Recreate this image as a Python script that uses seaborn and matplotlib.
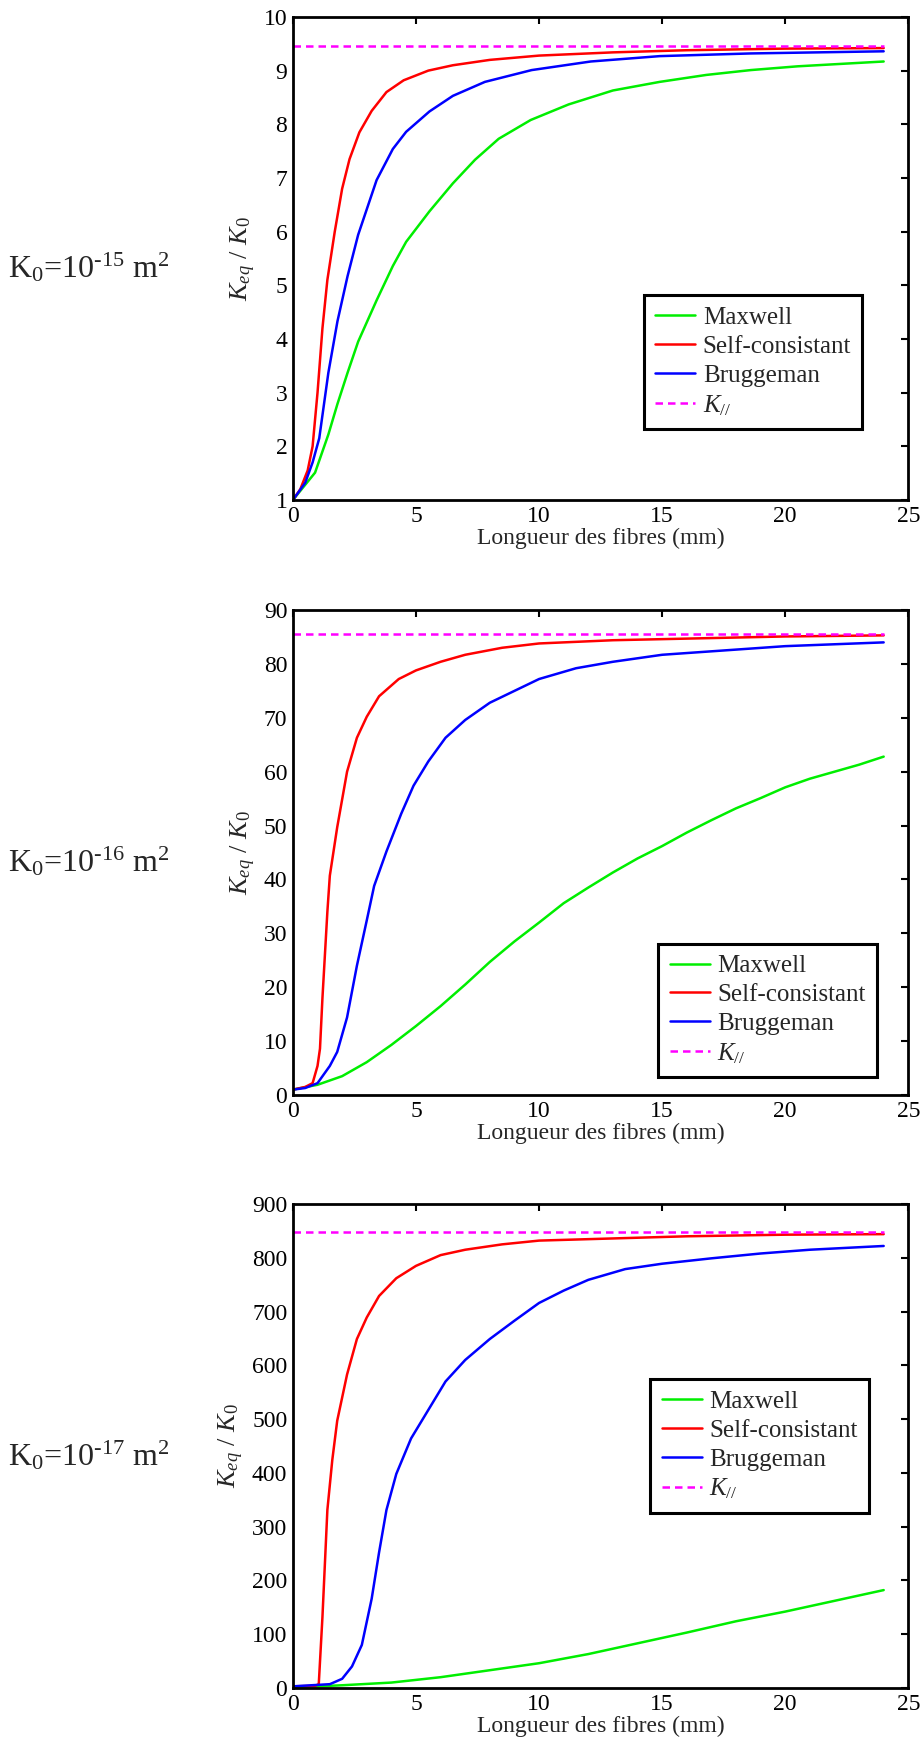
import numpy as np
import pandas as pd
import matplotlib
matplotlib.use("Agg")
import matplotlib.pyplot as plt
import seaborn as sns

sns.set_theme(style="white")
plt.rcParams['font.family'] = ['Liberation Serif', 'DejaVu Serif']
plt.rcParams['mathtext.fontset'] = 'custom'
plt.rcParams['mathtext.rm'] = 'Liberation Serif'
plt.rcParams['mathtext.it'] = 'Liberation Serif:italic'
plt.rcParams['mathtext.bf'] = 'Liberation Serif:bold'

# ---------------- data ----------------
panel_labels = ["K$_0$=10$^{\u2010 15}$ m$^2$", "K$_0$=10$^{\u2010 16}$ m$^2$", "K$_0$=10$^{\u2010 17}$ m$^2$"]
series_names = ["Maxwell", "Self-consistant", "Bruggeman", "$K_{//}$"]

# Panel 1 (K0 = 1e-15)
p1_max_x = [0, 0.9, 1.44, 1.81, 2.22, 2.65, 3.4, 4.06, 4.6, 5.55, 6.5, 7.4, 8.36, 9.66, 11.2, 13.0, 14.9, 16.8, 18.6, 20.5, 24]
p1_max_y = [1.0, 1.51, 2.22, 2.79, 3.37, 3.95, 4.72, 5.36, 5.81, 6.38, 6.9, 7.34, 7.73, 8.08, 8.37, 8.63, 8.79, 8.92, 9.01, 9.08, 9.17]
p1_sc_x = [0, 0.3, 0.6, 0.8, 1.0, 1.2, 1.4, 1.7, 2.0, 2.3, 2.7, 3.2, 3.8, 4.5, 5.5, 6.5, 8, 10, 13, 16, 20, 24]
p1_sc_y = [1.0, 1.2, 1.55, 2.0, 3.0, 4.2, 5.1, 6.0, 6.8, 7.35, 7.85, 8.25, 8.6, 8.82, 9.0, 9.1, 9.2, 9.28, 9.34, 9.38, 9.41, 9.42]
p1_br_x = [0, 0.5, 0.8, 1.07, 1.44, 1.81, 2.22, 2.65, 3.4, 4.06, 4.6, 5.55, 6.5, 7.8, 9.7, 12.1, 14.9, 18.6, 24]
p1_br_y = [1.0, 1.32, 1.7, 2.15, 3.37, 4.33, 5.17, 5.94, 6.96, 7.54, 7.86, 8.24, 8.53, 8.79, 9.01, 9.17, 9.27, 9.32, 9.36]
p1_kpar = 9.45

# Panel 2 (K0 = 1e-16)
p2_max_x = [0, 1, 2, 3, 4, 5, 6, 7, 8, 9, 10, 11, 12, 13, 14, 15, 16, 17, 18, 19, 20, 21, 22, 23, 24]
p2_max_y = [1.0, 1.9, 3.5, 6.1, 9.3, 12.8, 16.5, 20.5, 24.7, 28.5, 32.0, 35.6, 38.5, 41.3, 43.9, 46.2, 48.7, 51.0, 53.2, 55.1, 57.1, 58.7, 60.0, 61.3, 62.8]
p2_sc_x = [0, 0.5, 0.8, 1.0, 1.1, 1.2, 1.4, 1.5, 1.8, 2.2, 2.6, 3.0, 3.5, 4.3, 5.0, 6.0, 7.0, 8.5, 10, 13, 16, 20, 24]
p2_sc_y = [1.0, 1.5, 2.2, 5.4, 8.6, 18.0, 34.0, 40.7, 49.7, 60.0, 66.3, 70.2, 74.0, 77.2, 78.8, 80.4, 81.7, 83.0, 83.8, 84.4, 84.7, 85.1, 85.3]
p2_br_x = [0, 0.5, 1.0, 1.5, 1.8, 2.2, 2.6, 3.0, 3.3, 3.8, 4.4, 4.9, 5.5, 6.2, 7.0, 8.0, 9.0, 10, 11.5, 13, 15, 17.5, 20, 24]
p2_br_y = [1.0, 1.3, 2.2, 5.4, 8.0, 14.4, 24.0, 32.4, 38.8, 45.2, 52.2, 57.4, 61.9, 66.3, 69.6, 72.8, 75.0, 77.2, 79.2, 80.4, 81.7, 82.5, 83.3, 84.0]
p2_kpar = 85.6

# Panel 3 (K0 = 1e-17)
p3_max_x = [0, 2, 4, 6, 8, 10, 12, 14, 16, 18, 20, 22, 24]
p3_max_y = [1, 5, 10, 20, 33, 46, 63, 83, 103, 124, 142, 162, 182]
p3_sc_x = [0, 0.9, 1.05, 1.2, 1.4, 1.6, 1.8, 2.2, 2.6, 3.0, 3.5, 4.2, 5.0, 6.0, 7.0, 8.5, 10, 13, 16, 20, 24]
p3_sc_y = [3, 4, 7, 132, 331, 424, 497, 583, 649, 689, 729, 762, 785, 805, 815, 825, 832, 836, 840, 843, 844]
p3_br_x = [0, 1.5, 2.0, 2.4, 2.8, 3.2, 3.5, 3.8, 4.2, 4.8, 5.5, 6.2, 7.0, 8.0, 9.0, 10, 11, 12, 13.5, 15, 17, 19, 21, 24]
p3_br_y = [3, 7, 17, 40, 80, 166, 252, 331, 398, 464, 517, 570, 610, 649, 683, 716, 739, 759, 779, 789, 799, 808, 815, 822]
p3_kpar = 848

kpar_x = [0, 24]

y_limits = [(1, 10), (0, 90), (0, 900)]
y_ticks = [list(range(1, 11)), list(range(0, 91, 10)), list(range(0, 901, 100))]
x_ticks = [0, 5, 10, 15, 20, 25]

panels = [
    (p1_max_x, p1_max_y, p1_sc_x, p1_sc_y, p1_br_x, p1_br_y, p1_kpar),
    (p2_max_x, p2_max_y, p2_sc_x, p2_sc_y, p2_br_x, p2_br_y, p2_kpar),
    (p3_max_x, p3_max_y, p3_sc_x, p3_sc_y, p3_br_x, p3_br_y, p3_kpar),
]

# ---------------- layout ----------------
fig = plt.figure(figsize=(9.24, 17.47), dpi=100)
axes_rects = [
    [0.317, 0.7138, 0.666, 0.2765],
    [0.317, 0.3732, 0.666, 0.2776],
    [0.317, 0.0338, 0.666, 0.2770],
]
legend_anchor = [
    (0.571, 0.147, 0.354, 0.277),
    (0.593, 0.029, 0.357, 0.291),
    (0.580, 0.351, 0.357, 0.298),
]
label_y = [0.847, 0.507, 0.167]
colors = ["#00ee00", "#ff0000", "#0000ff", "#ff00ff"]

for i, (mx, my, sx, sy, bx, by, kp) in enumerate(panels):
    ax = fig.add_axes(axes_rects[i])
    sns.lineplot(x=mx, y=my, ax=ax, color=colors[0], lw=1.8, label=series_names[0])
    sns.lineplot(x=sx, y=sy, ax=ax, color=colors[1], lw=1.8, label=series_names[1])
    sns.lineplot(x=bx, y=by, ax=ax, color=colors[2], lw=1.8, label=series_names[2])
    sns.lineplot(x=kpar_x, y=[kp, kp], ax=ax, color=colors[3], lw=1.8,
                 linestyle=(0, (3, 2)), label=series_names[3])
    ax.set_xlim(0, 25)
    ax.set_ylim(*y_limits[i])
    ax.set_xticks(x_ticks)
    ax.set_yticks(y_ticks[i])
    ax.tick_params(direction='in', length=5, width=1.5, top=True, right=True,
                   labelsize=17, pad=4, colors='black')
    for sp in ax.spines.values():
        sp.set_linewidth(2)
        sp.set_color('black')
    ax.set_xlabel("Longueur des fibres (mm)", fontsize=17, labelpad=1)
    ax.set_ylabel("$K_{eq}$ / $K_0$", fontsize=19, labelpad=4)
    leg = ax.legend(loc='center', bbox_to_anchor=legend_anchor[i], fontsize=18,
                    frameon=True, fancybox=False, framealpha=1, edgecolor='black',
                    handlelength=1.6, handletextpad=0.3, borderpad=0.45,
                    labelspacing=0.25, borderaxespad=0)
    leg.get_frame().set_linewidth(2.2)
    fig.text(0.096, label_y[i], panel_labels[i], fontsize=23, ha='center', va='center',
             family=['Liberation Serif', 'DejaVu Serif'])

fig.savefig("out.png", dpi=100)
